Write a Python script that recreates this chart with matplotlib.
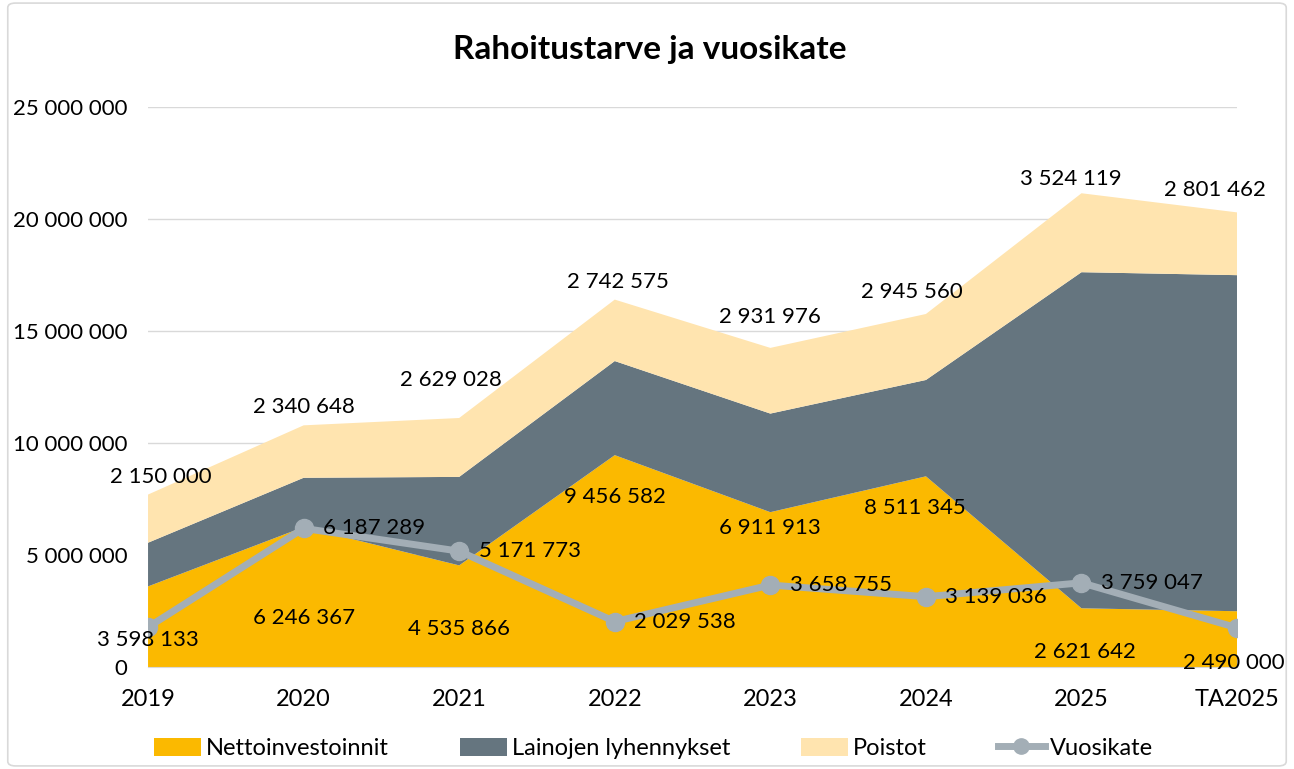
import matplotlib

matplotlib.use("Agg")

import matplotlib.pyplot as plt  # noqa: E402
from matplotlib.patches import FancyBboxPatch  # noqa: E402
from matplotlib.lines import Line2D  # noqa: E402
from matplotlib.patches import Patch  # noqa: E402

plt.rcParams["font.family"] = ["Lato", "DejaVu Sans"]

years = ["2019", "2020", "2021", "2022", "2023", "2024", "2025", "TA2025"]
nettoinvestoinnit = [3598133, 6246367, 4535866, 9456582, 6911913, 8511345, 2621642, 2490000]
lainojen_lyhennykset = [1950000, 2200000, 3950000, 4200000, 4400000, 4300000, 15000000, 15000000]
poistot = [2150000, 2340648, 2629028, 2742575, 2931976, 2945560, 3524119, 2801462]
vuosikate = [1780000, 6187289, 5171773, 2029538, 3658755, 3139036, 3759047, 1750000]

ORANGE = "#FBB900"
SLATE = "#65757F"
LIGHT = "#FFE4AF"
LINE = "#A3AEB6"
NUM_SIZE = 16


def fmt(v):
    return f"{v:,.0f}".replace(",", " ")


fig = plt.figure(figsize=(12.94, 7.69), dpi=100)
ax = fig.add_axes([0.1144, 0.1326, 0.8416, 0.7284])
x = list(range(len(years)))

ax.stackplot(x, nettoinvestoinnit, lainojen_lyhennykset, poistot,
             colors=[ORANGE, SLATE, LIGHT], linewidth=0, zorder=2)
ax.plot(x, vuosikate, color=LINE, lw=5, marker="o", markersize=13,
        solid_capstyle="round", zorder=4)

ax.set_xlim(0, len(years) - 1)
ax.set_ylim(0, 25_000_000)
ax.set_yticks(range(0, 25_000_001, 5_000_000))
ax.set_yticklabels([fmt(v) for v in range(0, 25_000_001, 5_000_000)])
ax.set_xticks(x)
ax.set_xticklabels(years)
ax.tick_params(axis="both", length=0)
ax.tick_params(axis="y", pad=15, labelsize=NUM_SIZE)
ax.tick_params(axis="x", pad=16, labelsize=17)
ax.grid(axis="y", color="#D9D9D9", lw=1, zorder=0)
for s in ["top", "right", "left"]:
    ax.spines[s].set_visible(False)
ax.spines["bottom"].set_color("#D9D9D9")
ax.set_axisbelow(True)

# data labels (Excel-like manual placement)
tops = [a + b + c for a, b, c in zip(nettoinvestoinnit, lainojen_lyhennykset, poistot)]
poistot_dx = [0.08, 0.0, -0.05, 0.02, 0.0, -0.09, -0.07, -0.14]
poistot_dy = [800000, 800000, 1700000, 800000, 1400000, 1000000, 650000, 1000000]
for i, v in enumerate(poistot):
    ax.text(i + poistot_dx[i], tops[i] + poistot_dy[i], fmt(v), ha="center",
            va="center", fontsize=NUM_SIZE, zorder=5, clip_on=False)

netto_y = [1200000, 2200000, 1700000, 7600000, 6200000, 7100000, 670000, 200000]
netto_dx = [0.0, 0.0, 0.0, 0.0, 0.0, -0.07, 0.02, -0.02]
for i, v in enumerate(nettoinvestoinnit):
    ax.text(i + netto_dx[i], netto_y[i], fmt(v), ha="center", va="center",
            fontsize=NUM_SIZE, zorder=5, clip_on=False)

for i, v in enumerate(vuosikate):
    if i in (0, len(vuosikate) - 1):
        continue
    ax.annotate(fmt(v), (i, v), xytext=(14, 0), textcoords="offset points",
                ha="left", va="center", fontsize=NUM_SIZE, zorder=5)

fig.text(0.502, 0.935, "Rahoitustarve ja vuosikate", ha="center", va="center",
         fontsize=24, fontweight="bold")

handles = [
    Patch(facecolor=ORANGE, label="Nettoinvestoinnit"),
    Patch(facecolor=SLATE, label="Lainojen lyhennykset"),
    Patch(facecolor=LIGHT, label="Poistot"),
    Line2D([], [], color=LINE, lw=5, marker="o", markersize=11,
           label="Vuosikate"),
]
fig.legend(handles=handles, loc="center", bbox_to_anchor=(0.505, 0.027),
           ncol=4, frameon=False, fontsize=17, handlelength=2.0,
           handleheight=0.8, handletextpad=0.2, columnspacing=3.0)

fig.patches.append(FancyBboxPatch((0.006, 0.004), 0.988, 0.992,
                                  boxstyle="round,pad=0,rounding_size=0.006",
                                  transform=fig.transFigure, fill=False,
                                  edgecolor="#D9D9D9", lw=1.2))

fig.savefig("out.png", dpi=100, facecolor="white")
